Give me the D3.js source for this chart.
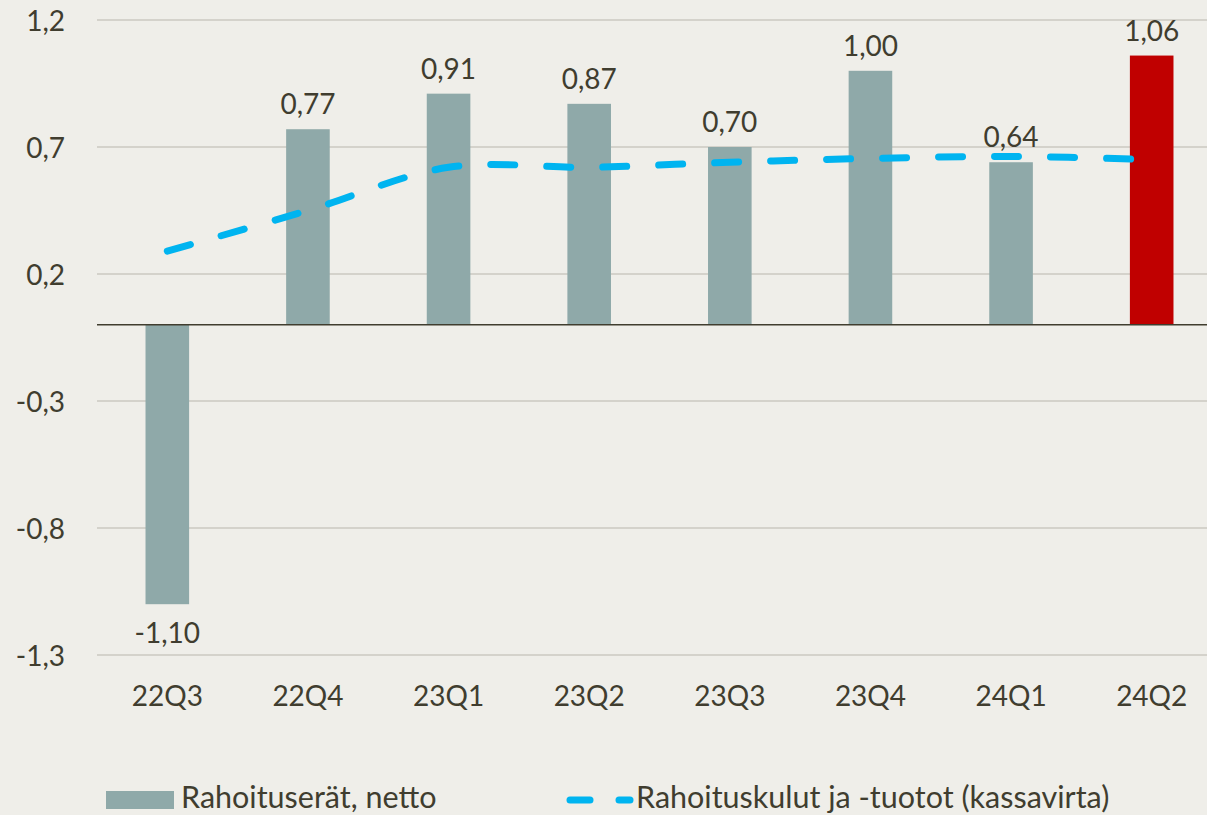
<!DOCTYPE html>
<html><head><meta charset="utf-8">
<script src="https://cdn.jsdelivr.net/npm/d3@7"></script>
<style>
html,body{margin:0;padding:0;background:#efeee9;}
svg{display:block;}
text{font-family:Lato, "Open Sans", sans-serif;fill:#403d2f;}
</style></head>
<body>
<svg id="chart" width="1207" height="815"></svg>
<script>
const categories = ["22Q3","22Q4","23Q1","23Q2","23Q3","23Q4","24Q1","24Q2"];
const barValues = [-1.10, 0.77, 0.91, 0.87, 0.70, 1.00, 0.64, 1.06];
const lineValues = [0.29, 0.45, 0.62, 0.62, 0.64, 0.655, 0.663, 0.65];
const yTicks = [-1.3, -0.8, -0.3, 0.2, 0.7, 1.2];
const seriesNames = ["Rahoituserät, netto", "Rahoituskulut ja -tuotot (kassavirta)"];

const svg = d3.select("#chart");
const x = d3.scaleBand().domain(categories).range([97, 1222]).paddingInner(0.69).paddingOuter(0.345);
const y = d3.scaleLinear().domain([-1.3, 1.2]).range([655, 20]);
const fmt = v => d3.format(".2f")(v).replace(".", ",").replace("−","-");
const fmtTick = v => d3.format(".1f")(v).replace(".", ",").replace("−","-");

// gridlines
svg.append("g").selectAll("line").data(yTicks).join("line")
  .attr("x1", 97).attr("x2", 1207)
  .attr("y1", d => y(d)).attr("y2", d => y(d))
  .attr("stroke", "#cbc9c1").attr("stroke-width", 1.5);

// y axis labels
const yAxis = d3.axisLeft(y).tickValues(yTicks).tickFormat(fmtTick).tickSize(0).tickPadding(0);
const ya = svg.append("g").attr("transform", "translate(65,0)").call(yAxis);
ya.select(".domain").remove();
ya.selectAll("text").attr("font-size", 28).style("font-family","Lato, sans-serif").attr("fill", "#403d2f").attr("dy","0.36em");

// bars
svg.append("g").selectAll("rect").data(barValues).join("rect")
  .attr("x", (d, i) => x(categories[i]))
  .attr("width", x.bandwidth())
  .attr("y", d => y(Math.max(0, d)))
  .attr("height", d => Math.abs(y(d) - y(0)))
  .attr("fill", (d, i) => i === categories.length - 1 ? "#c00000" : "#8fa9a9");

// zero line
svg.append("line").attr("x1", 97).attr("x2", 1207).attr("y1", y(0)).attr("y2", y(0))
  .attr("stroke", "#403d2f").attr("stroke-width", 1.5);

// value labels
svg.append("g").selectAll("text").data(barValues).join("text")
  .attr("x", (d, i) => x(categories[i]) + x.bandwidth() / 2)
  .attr("y", d => d >= 0 ? y(d) - 15 : y(d) + 39)
  .attr("text-anchor", "middle").attr("font-size", 28)
  .text(d => fmt(d));

// x axis labels
const xAxis = d3.axisBottom(x).tickSize(0).tickPadding(0);
const xa = svg.append("g").attr("transform", "translate(0,706)").call(xAxis);
xa.select(".domain").remove();
xa.selectAll("text").attr("font-size", 28).style("font-family","Lato, sans-serif").attr("fill", "#403d2f").attr("dy", 0);

// line
const line = d3.line()
  .x((d, i) => x(categories[i]) + x.bandwidth() / 2)
  .y(d => y(d))
  .curve(d3.curveCatmullRom.alpha(0.5));
svg.append("path").datum(lineValues).attr("d", line)
  .attr("fill", "none").attr("stroke", "#00b4f0").attr("stroke-width", 7)
  .attr("stroke-linecap", "round").attr("stroke-dasharray", "24 32");

// legend
const lg = svg.append("g");
lg.append("rect").attr("x", 106).attr("y", 791).attr("width", 68).attr("height", 18).attr("fill", "#8fa9a9");
lg.append("text").attr("x", 181).attr("y", 808).attr("font-size", 30.5).text(seriesNames[0]);
lg.append("line").attr("x1", 570).attr("x2", 590).attr("y1", 800).attr("y2", 800)
  .attr("stroke", "#00b4f0").attr("stroke-width", 7).attr("stroke-linecap", "round");
lg.append("line").attr("x1", 619).attr("x2", 630).attr("y1", 800).attr("y2", 800)
  .attr("stroke", "#00b4f0").attr("stroke-width", 7).attr("stroke-linecap", "round");
lg.append("text").attr("x", 636).attr("y", 808).attr("font-size", 30.5).text(seriesNames[1]);
</script>
</body></html>
